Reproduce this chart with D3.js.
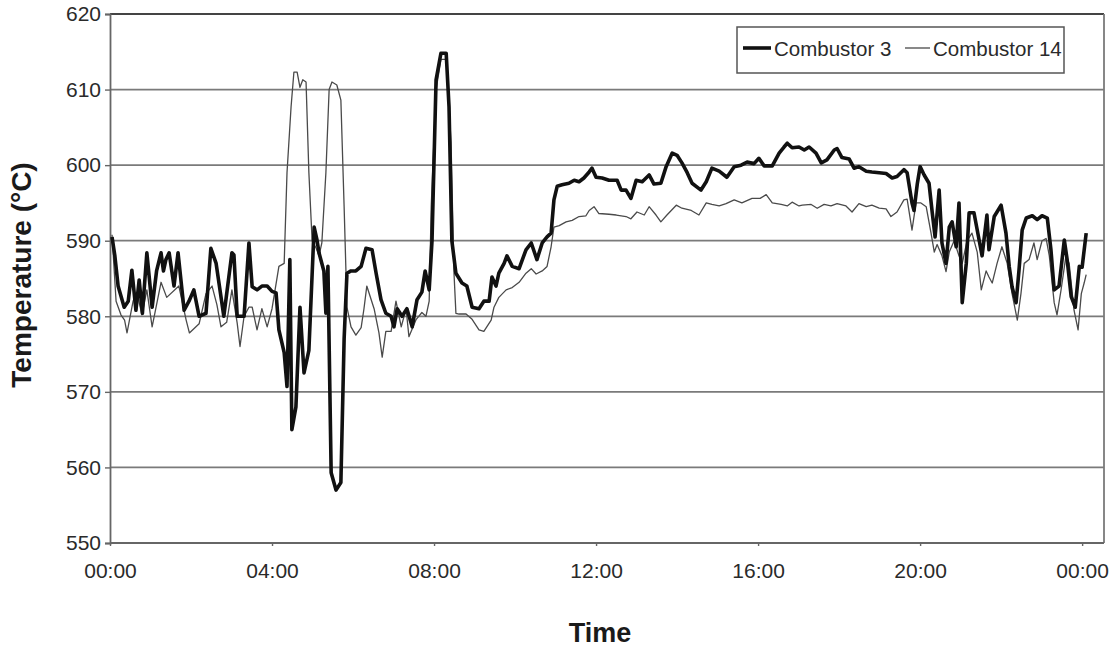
<!DOCTYPE html>
<html>
<head>
<meta charset="utf-8">
<script src="https://cdn.jsdelivr.net/npm/d3@7"></script>
<style>
  html, body { margin: 0; padding: 0; background: #fff; }
  svg { display: block; font-family: "Liberation Sans", Arial, Helvetica, sans-serif; }
</style>
</head>
<body>
<svg id="chart" width="1119" height="649"></svg>
<script>
// Combustor exhaust temperatures over one day: [hour of day, °C]
const combustor3 = [
  [0.05,590.5],[0.12,588],[0.2,584],[0.35,581.2],[0.45,582],[0.54,586.1],[0.64,580.8],[0.72,584.8],[0.8,580.4],
  [0.91,588.4],[1.04,581.2],[1.15,586],[1.26,588.4],[1.32,586],[1.38,587.5],[1.46,588.4],[1.58,584],[1.68,588.4],
  [1.83,580.8],[1.95,582],[2.07,583.5],[2.2,580],[2.37,580.4],[2.49,589],[2.62,587],[2.81,580],[3.01,588.4],
  [3.06,588.1],[3.14,580],[3.31,580],[3.43,589.7],[3.51,583.9],[3.63,583.5],[3.75,584],[3.88,584],[4.0,583.3],
  [4.1,583.1],[4.17,578.2],[4.3,575.2],[4.37,570.7],[4.44,587.5],[4.49,565],[4.59,568],[4.69,581.2],[4.79,572.5],
  [4.91,575.5],[5.04,591.8],[5.11,590.1],[5.16,588.4],[5.28,586],[5.33,580.4],[5.38,586.6],[5.46,559.3],[5.58,557],
  [5.7,558],[5.78,577],[5.85,585.7],[5.95,586],[6.07,586],[6.2,586.6],[6.32,589],[6.47,588.8],[6.57,585.7],
  [6.69,582.2],[6.81,580.4],[6.94,580],[7.01,578.6],[7.09,581],[7.21,580],[7.33,581],[7.46,578.6],[7.58,582.2],
  [7.7,583.2],[7.78,586],[7.88,583.5],[7.95,590],[8.05,611.3],[8.17,614.8],[8.3,614.8],[8.37,607.7],[8.44,590],
  [8.54,585.7],[8.69,584.4],[8.81,584],[8.94,581.2],[9.11,581],[9.23,582],[9.36,582],[9.43,585.2],[9.53,584],
  [9.6,585.7],[9.73,587],[9.8,588],[9.93,586.6],[10.1,586.3],[10.27,588.8],[10.4,589.7],[10.54,587.5],[10.67,589.7],
  [10.79,590.5],[10.89,591],[10.96,595.4],[11.04,597.2],[11.16,597.4],[11.33,597.6],[11.46,598],[11.58,597.8],
  [11.7,598.3],[11.83,599.1],[11.9,599.6],[12.0,598.4],[12.15,598.3],[12.32,598],[12.52,598],[12.62,596.7],
  [12.74,596.7],[12.86,595.6],[12.99,598],[13.14,597.8],[13.31,598.7],[13.43,597.5],[13.6,597.6],[13.73,599.8],
  [13.88,601.6],[14.0,601.3],[14.12,600.3],[14.25,599],[14.37,597.6],[14.59,596.7],[14.72,597.8],[14.86,599.6],
  [15.04,599.2],[15.23,598.4],[15.41,599.8],[15.58,600],[15.73,600.4],[15.9,600.2],[16.02,600.9],[16.15,599.9],
  [16.35,599.9],[16.52,601.6],[16.64,602.4],[16.72,602.9],[16.84,602.3],[17.01,602.4],[17.14,602],[17.26,602.4],
  [17.43,601.6],[17.56,600.3],[17.7,600.7],[17.88,602],[17.95,602.2],[18.07,601],[18.25,600.8],[18.37,599.6],
  [18.49,599.8],[18.67,599.2],[18.81,599.1],[18.99,599],[19.16,598.9],[19.31,598.3],[19.43,598.5],[19.6,599.4],
  [19.68,599],[19.8,595],[19.85,594],[19.93,597.5],[20.0,599.8],[20.1,598.7],[20.22,597.6],[20.3,593.7],
  [20.37,590.5],[20.47,596.7],[20.54,589.7],[20.64,587],[20.72,591.8],[20.79,592.5],[20.89,589.2],[20.96,595],
  [21.04,581.8],[21.14,587],[21.21,593.7],[21.33,593.7],[21.46,590],[21.53,588],[21.65,593.4],[21.7,588.8],
  [21.83,593.2],[22.0,594.7],[22.12,591],[22.2,586.6],[22.27,583.9],[22.37,581.8],[22.44,586],[22.52,591.4],
  [22.62,593],[22.77,593.3],[22.89,592.8],[23.01,593.3],[23.14,593],[23.23,588.8],[23.31,583.5],[23.43,584],
  [23.56,590.1],[23.63,587.5],[23.73,582.6],[23.83,581.2],[23.93,586.6],[24.0,586.5],[24.1,591]
];

const combustor14 = [
  [0.05,590.8],[0.15,582],[0.27,580.2],[0.36,579.5],[0.42,577.8],[0.57,582],[0.67,583],[0.79,580.2],[0.91,583.5],
  [1.04,578.6],[1.26,584.5],[1.4,582.5],[1.7,584],[1.88,579.5],[1.96,577.8],[2.2,579],[2.37,583],[2.52,584],
  [2.64,581.5],[2.74,578.6],[2.88,579.2],[3.01,583.5],[3.14,579.1],[3.21,576],[3.31,580],[3.43,581.2],[3.51,581.2],
  [3.63,578.2],[3.75,581],[3.88,578.6],[4.0,581],[4.17,586.6],[4.3,587],[4.37,599],[4.47,607.7],[4.54,612.3],
  [4.62,612.3],[4.69,610.3],[4.76,611.3],[4.84,611],[4.91,599],[4.99,590],[5.09,589],[5.16,588],[5.23,589.7],
  [5.33,599],[5.41,610],[5.48,611],[5.6,610.6],[5.7,608.6],[5.78,594.5],[5.85,581.2],[5.95,578.6],[6.07,577.5],
  [6.2,578.5],[6.27,581],[6.34,584],[6.52,581],[6.64,577.8],[6.72,574.6],[6.81,578],[6.94,578],[7.06,582],
  [7.19,578.6],[7.31,581],[7.38,577.3],[7.56,579.6],[7.7,580.5],[7.8,580],[7.88,582],[7.93,594.5],[8.05,610],
  [8.17,614],[8.3,614],[8.42,603],[8.49,586],[8.54,580.4],[8.62,580.3],[8.79,580.3],[8.94,579.6],[9.11,578.2],
  [9.23,578],[9.41,579.5],[9.48,581.2],[9.6,582.5],[9.78,583.5],[9.93,583.8],[10.1,584.5],[10.27,585.7],
  [10.4,586.3],[10.52,585.6],[10.67,586],[10.79,586.6],[10.89,589.2],[10.96,591.8],[11.09,592],[11.26,592.5],
  [11.41,592.7],[11.58,593.2],[11.75,593.3],[11.83,594],[11.95,594.5],[12.07,593.6],[12.32,593.5],[12.5,593.4],
  [12.74,593.2],[12.86,592.9],[13.01,593.8],[13.19,593.4],[13.31,594.5],[13.48,593.4],[13.6,592.5],[13.75,593.4],
  [13.98,594.7],[14.12,594.3],[14.35,594],[14.54,593.4],[14.72,595],[14.86,594.8],[15.04,594.6],[15.21,594.9],
  [15.41,595.4],[15.6,595],[15.85,595.6],[16.05,595.6],[16.2,596.1],[16.35,595],[16.57,594.8],[16.72,594.6],
  [16.84,595.1],[17.01,594.6],[17.09,594.7],[17.31,594.8],[17.46,594.3],[17.63,594.8],[17.8,594.6],[17.95,594.9],
  [18.17,594.6],[18.32,593.8],[18.49,594.9],[18.67,594.5],[18.81,594.7],[18.99,594.3],[19.16,594.2],[19.28,593.2],
  [19.43,593.8],[19.6,595.4],[19.68,595.5],[19.8,591.4],[19.9,595],[20.02,595],[20.15,594.5],[20.27,591],
  [20.35,588.5],[20.42,589.5],[20.54,588],[20.64,585.9],[20.72,588.5],[20.84,590],[20.96,588],[21.04,587],
  [21.16,590],[21.28,591],[21.41,588.5],[21.51,583.5],[21.63,586],[21.7,585.2],[21.78,584.4],[21.9,587],
  [22.02,589.2],[22.15,587],[22.27,583],[22.4,579.5],[22.49,583],[22.57,587],[22.69,587.5],[22.81,589.7],
  [22.89,587.5],[23.01,590],[23.11,590.3],[23.19,588],[23.31,581.8],[23.38,580.2],[23.48,583.5],[23.6,588],
  [23.68,587],[23.8,580.8],[23.9,578.2],[23.98,583],[24.05,584.4],[24.1,585.5]
];

const seriesNames = ["Combustor 3", "Combustor 14"];
const hourTicks = [0, 4, 8, 12, 16, 20, 24];
const hourLabels = ["00:00", "04:00", "08:00", "12:00", "16:00", "20:00", "00:00"];
const tempTicks = [550, 560, 570, 580, 590, 600, 610, 620];

const svg = d3.select("#chart");
const plot = { left: 110, right: 1104, top: 14, bottom: 543 };

const x = d3.scaleLinear().domain([0, 24.54]).range([plot.left, plot.right]);
const y = d3.scaleLinear().domain([550, 620]).range([plot.bottom, plot.top]);

// horizontal gridlines
svg.append("g")
  .selectAll("line")
  .data(tempTicks.filter(t => t > 550))
  .join("line")
  .attr("x1", plot.left).attr("x2", plot.right)
  .attr("y1", d => y(d)).attr("y2", d => y(d))
  .attr("stroke", t => t === 620 ? "#444" : "#7a7a7a")
  .attr("stroke-width", t => t === 620 ? 2 : 1.8);

// right border
svg.append("line")
  .attr("x1", plot.right).attr("x2", plot.right)
  .attr("y1", plot.top).attr("y2", plot.bottom)
  .attr("stroke", "#7a7a7a").attr("stroke-width", 1.8);

// y axis
const yAxis = svg.append("g")
  .attr("transform", `translate(${plot.left},0)`)
  .call(d3.axisLeft(y).tickValues(tempTicks).tickSize(5).tickPadding(4).tickFormat(d3.format("d")));
yAxis.select(".domain").attr("stroke", "#666").attr("stroke-width", 1.8);
yAxis.selectAll(".tick line").attr("stroke", "#666").attr("stroke-width", 1.4);
yAxis.selectAll(".tick text")
  .attr("fill", "#2a2a2a")
  .style("font-size", "21px");

// x axis
const xAxis = svg.append("g")
  .attr("transform", `translate(0,${plot.bottom})`)
  .call(d3.axisBottom(x).tickValues(hourTicks).tickSize(3).tickPadding(17)
    .tickFormat((d, i) => hourLabels[i]));
xAxis.select(".domain").attr("stroke", "#666").attr("stroke-width", 1.8)
  .attr("d", `M${plot.left},0H${plot.right}`);
xAxis.selectAll(".tick line").attr("stroke", "#666").attr("stroke-width", 1.4);
xAxis.selectAll(".tick text")
  .attr("fill", "#2a2a2a")
  .style("font-size", "21px");

// data lines
const line = d3.line().x(d => x(d[0])).y(d => y(d[1])).curve(d3.curveLinear);

svg.append("path")
  .datum(combustor14)
  .attr("d", line)
  .attr("fill", "none")
  .attr("stroke", "#4a4a4a")
  .attr("stroke-width", 1.3)
  .attr("stroke-linejoin", "round");

svg.append("path")
  .datum(combustor3)
  .attr("d", line)
  .attr("fill", "none")
  .attr("stroke", "#111")
  .attr("stroke-width", 3.6)
  .attr("stroke-linejoin", "round");

// axis titles
svg.append("text")
  .attr("transform", "translate(31,275) rotate(-90)")
  .attr("text-anchor", "middle")
  .attr("font-weight", "bold")
  .attr("fill", "#1a1a1a")
  .style("font-size", "28px")
  .text("Temperature (°C)");

svg.append("text")
  .attr("x", 600).attr("y", 642)
  .attr("text-anchor", "middle")
  .attr("font-weight", "bold")
  .attr("fill", "#1a1a1a")
  .style("font-size", "27px")
  .text("Time");

// legend
const legend = svg.append("g");
legend.append("rect")
  .attr("x", 737).attr("y", 27).attr("width", 327).attr("height", 46)
  .attr("fill", "#fff").attr("stroke", "#555").attr("stroke-width", 1.5);
legend.append("line")
  .attr("x1", 743).attr("x2", 771).attr("y1", 48).attr("y2", 48)
  .attr("stroke", "#111").attr("stroke-width", 3.6);
legend.append("text")
  .attr("x", 774).attr("y", 56)
  .attr("fill", "#2a2a2a").style("font-size", "20.5px")
  .text(seriesNames[0]);
legend.append("line")
  .attr("x1", 905).attr("x2", 930).attr("y1", 48).attr("y2", 48)
  .attr("stroke", "#4a4a4a").attr("stroke-width", 1.3);
legend.append("text")
  .attr("x", 933).attr("y", 56)
  .attr("fill", "#2a2a2a").style("font-size", "20.5px")
  .text(seriesNames[1]);
</script>
</body>
</html>
